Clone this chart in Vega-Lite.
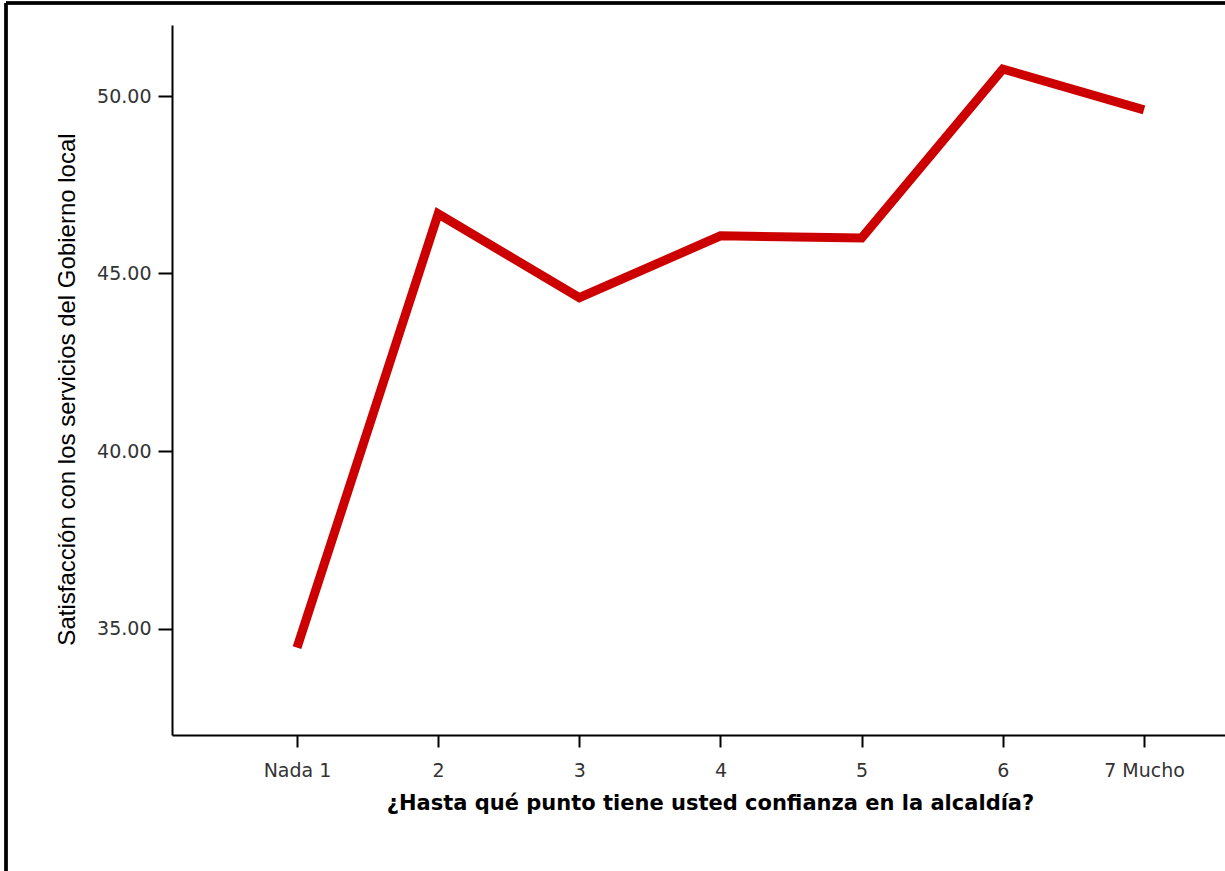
{
  "$schema": "https://vega.github.io/schema/vega-lite/v6.json",
  "width": 1053,
  "height": 710,
  "autosize": {"type": "none"},
  "padding": {"left": 172, "top": 25, "right": 0, "bottom": 136},
  "background": "white",
  "config": {
    "view": {"stroke": null},
    "axis": {"grid": false, "domainColor": "black", "domainWidth": 2, "tickColor": "black", "tickWidth": 2}
  },
  "data": {
    "values": [
      {"confianza": 1, "satisfaccion": 34.46},
      {"confianza": 2, "satisfaccion": 46.68},
      {"confianza": 3, "satisfaccion": 44.32},
      {"confianza": 4, "satisfaccion": 46.06},
      {"confianza": 5, "satisfaccion": 46.0},
      {"confianza": 6, "satisfaccion": 50.76},
      {"confianza": 7, "satisfaccion": 49.61}
    ]
  },
  "layer": [
    {
      "mark": {"type": "line", "color": "#cc0000", "strokeWidth": 9, "strokeCap": "butt", "strokeJoin": "miter"},
      "encoding": {
        "x": {
          "field": "confianza", "type": "quantitative",
          "scale": {"domain": [0.1145, 7.574], "nice": false, "zero": false},
          "axis": {
            "values": [1, 2, 3, 4, 5, 6, 7],
            "format": "d",
            "labelExpr": "datum.value == 1 ? 'Nada 1' : datum.value == 7 ? '7 Mucho' : datum.label",
            "title": "¿Hasta qué punto tiene usted confianza en la alcaldía?",
            "tickSize": 12,
            "labelPadding": 14,
            "labelFont": "DejaVu Sans", "labelFontSize": 19, "labelColor": "#333333", "labelLimit": 0,
            "titleFont": "DejaVu Sans", "titleFontSize": 21, "titleFontWeight": "bold", "titleColor": "black",
            "titlePadding": 12,
            "titleX": 538
          }
        },
        "y": {
          "field": "satisfaccion", "type": "quantitative",
          "scale": {"domain": [32, 52], "nice": false, "zero": false},
          "axis": {
            "values": [35, 40, 45, 50],
            "format": ".2f",
            "title": "Satisfacción con los servicios del Gobierno local",
            "tickSize": 14,
            "labelPadding": 7,
            "labelFont": "DejaVu Sans", "labelFontSize": 19, "labelColor": "#333333",
            "titleFont": "Liberation Sans", "titleFontSize": 24, "titleFontWeight": "normal", "titleColor": "black",
            "titlePadding": 17,
            "titleY": 364
          }
        }
      }
    },
    {
      "mark": {"type": "rule", "color": "black", "strokeWidth": 2.5},
      "encoding": {
        "x": {"datum": -1.0614, "type": "quantitative"},
        "y": {"datum": 52.62, "type": "quantitative"},
        "y2": {"datum": 27}
      }
    },
    {
      "mark": {"type": "rule", "color": "black", "strokeWidth": 2.5},
      "encoding": {
        "x": {"datum": -1.0614, "type": "quantitative"},
        "x2": {"datum": 8},
        "y": {"datum": 52.62, "type": "quantitative"}
      }
    }
  ]
}
